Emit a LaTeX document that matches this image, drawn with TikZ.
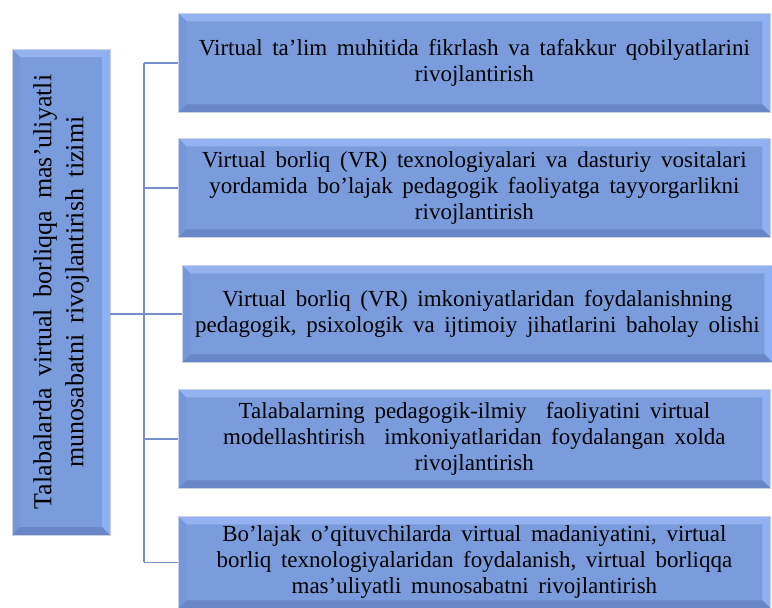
\documentclass[tikz,border=0pt]{standalone}
\usepackage{fontspec}
\setmainfont{Liberation Serif}
\definecolor{bvface}{RGB}{123,156,220}
\definecolor{bvtop}{RGB}{148,178,240}
\definecolor{bvleft}{RGB}{118,150,218}
\definecolor{bvright}{RGB}{142,177,245}
\definecolor{bvbot}{RGB}{104,134,200}
\definecolor{bvrim}{RGB}{200,210,228}
\definecolor{linkblue}{RGB}{118,142,204}
\newcommand{\bvw}{8pt}
\newcommand{\boxfont}{\fontsize{23}{26}\selectfont\spaceskip0.42em\relax}
\newcommand{\titlefont}{\fontsize{26}{32}\selectfont\spaceskip0.45em\relax}
\tikzset{
  bevelbox/.style={draw=bvrim, line width=0.8pt, fill=bvface, inner sep=2pt,
    align=center, font=\boxfont,
    path picture={
      \coordinate (pnw) at (path picture bounding box.north west);
      \coordinate (pne) at (path picture bounding box.north east);
      \coordinate (psw) at (path picture bounding box.south west);
      \coordinate (pse) at (path picture bounding box.south east);
      \fill[bvtop] (pnw) -- (pne) -- ([shift={(-\bvw,-\bvw)}]pne) -- ([shift={(\bvw,-\bvw)}]pnw) -- cycle;
      \fill[bvleft] (pnw) -- (psw) -- ([shift={(\bvw,\bvw)}]psw) -- ([shift={(\bvw,-\bvw)}]pnw) -- cycle;
      \fill[bvright] (pne) -- (pse) -- ([shift={(-\bvw,\bvw)}]pse) -- ([shift={(-\bvw,-\bvw)}]pne) -- cycle;
      \fill[bvbot] (psw) -- (pse) -- ([shift={(-\bvw,\bvw)}]pse) -- ([shift={(\bvw,\bvw)}]psw) -- cycle;
    }},
  link/.style={draw=linkblue, line width=1.6pt}
}
\begin{document}
\begin{tikzpicture}[x=1pt,y=-1pt]
  \useasboundingbox (0,0) rectangle (772,608);
  % left title box
  \node[bevelbox, minimum width=98pt, minimum height=486pt,
    label={[rotate=90, align=center, font=\titlefont]center:Talabalarda virtual borliqqa mas’uliyatli\\munosabatni rivojlantirish tizimi}] (lb) at (61,292) {};
  % right boxes
  \foreach \i/\xy/\w/\h/\txt in {
    1/{(178,13)}/592/99/{Virtual ta’lim muhitida fikrlash va tafakkur qobilyatlarini\\rivojlantirish},
    2/{(178,138)}/592/99/{Virtual borliq (VR) texnologiyalari va dasturiy vositalari\\yordamida bo’lajak pedagogik faoliyatga tayyorgarlikni\\rivojlantirish},
    3/{(182,265)}/590/97/{Virtual borliq (VR) imkoniyatlaridan foydalanishning\\pedagogik, psixologik va ijtimoiy jihatlarini baholay olishi},
    4/{(178,389)}/592/99/{Talabalarning pedagogik-ilmiy \ faoliyatini virtual\\modellashtirish \ imkoniyatlaridan foydalangan xolda\\rivojlantirish},
    5/{(178,516)}/592/92/{Bo’lajak o’qituvchilarda virtual madaniyatini, virtual\\borliq texnologiyalaridan foydalanish, virtual borliqqa\\mas’uliyatli munosabatni rivojlantirish}}
    \node[bevelbox, anchor=north west, minimum width=\w pt, minimum height=\h pt] (b\i) at \xy {\txt};
  % connectors
  \coordinate (trunk) at (144,0);
  \draw[link] (b1.west -| trunk) -- (b5.west -| trunk);
  \foreach \i in {1,...,5}
    \draw[link] (b\i.west -| trunk) -- (b\i.west);
  \draw[link] (lb.east |- b3.west) -- (b3.west -| trunk);
\end{tikzpicture}
\end{document}
